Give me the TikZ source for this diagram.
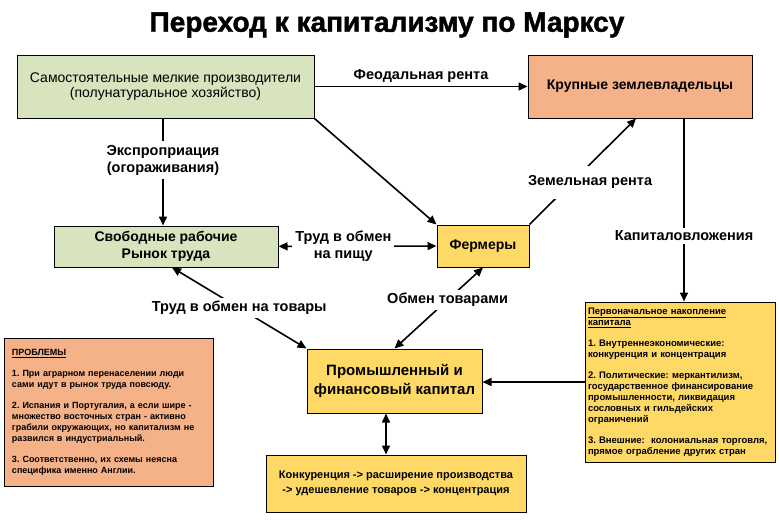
\documentclass[tikz,border=0pt]{standalone}
\usepackage{fontspec}
\setmainfont{Liberation Sans}
\newfontfamily\titlefont[FakeBold=1.6]{Liberation Sans Bold}
\usepackage{tikz}
\usetikzlibrary{arrows.meta}
\definecolor{boxgreen}{RGB}{215,228,189}
\definecolor{boxsalmon}{RGB}{245,177,135}
\definecolor{boxyellow}{RGB}{255,217,102}
\frenchspacing

\begin{document}
\begin{tikzpicture}[x=1pt, y=-1pt,
  box/.style={draw, line width=1pt, align=center, inner sep=2pt},
  boxfont/.style={font=\fontsize{14}{17}\selectfont\bfseries},
  notefont/.style={font=\fontsize{9}{11}\selectfont\bfseries, align=left},
  lbl/.style={fill=white, inner sep=3pt, align=center, font=\fontsize{14.5}{17}\selectfont\bfseries},
  arr/.style={line width=1.6pt, -{Triangle[length=9pt,width=8pt]}},
  darr/.style={line width=1.6pt, {Triangle[length=9pt,width=8pt]}-{Triangle[length=9pt,width=8pt]}}]
  \useasboundingbox (0,0) rectangle (779,520);
  \node[font=\fontsize{28}{30}\titlefont] (title) at (387,25) {Переход к капитализму по Марксу};
  % boxes
  \node[box, fill=boxgreen, minimum width=297, minimum height=63, font=\fontsize{14}{15}\selectfont] (prod) at (165.5,86.5) {Самостоятельные мелкие производители\\(полунатуральное хозяйство)};
  \node[box, boxfont, fill=boxsalmon, minimum width=224, minimum height=63] (lords) at (640,86.5) {Крупные землевладельцы};
  \node[box, boxfont, fill=boxgreen, minimum width=224, minimum height=41] (workers) at (166,246.5) {Свободные рабочие\\Рынок труда};
  \node[box, boxfont, fill=boxyellow, minimum width=92, minimum height=42] (farmers) at (483,246) {Фермеры};
  \node[box, fill=boxyellow, minimum width=175, minimum height=64, font=\fontsize{15}{19}\selectfont\bfseries] (capital) at (394.5,381) {Промышленный и\\финансовый капитал};
  \node[box, fill=boxyellow, minimum width=260, minimum height=57, font=\fontsize{11}{15}\selectfont\bfseries] (compet) at (396,483.5) {Конкуренция -> расширение производства\\-> удешевление товаров -> концентрация};
  \node[box, notefont, font=\fontsize{9.5}{11}\selectfont\bfseries, fill=boxyellow, minimum width=190, minimum height=160, text width=184] (accum) at (680,382) {\underline{Первоначальное накопление}\\\underline{капитала}\\[10pt]1. Внутреннеэкономические:\\конкуренция и концентрация\\[10pt]2. Политические: меркантилизм,\\государственное финансирование\\промышленности, ликвидация\\сословных и гильдейских\\ограничений\\[10pt]3. Внешние:\ \ колониальная торговля,\\прямое ограбление других стран};
  \node[box, notefont, fill=boxsalmon, minimum width=209, minimum height=148, text width=193] (problems) at (108.5,412) {\underline{ПРОБЛЕМЫ}\\[10pt]1. При аграрном перенаселении люди\\сами идут в рынок труда повсюду.\\[10pt]2. Испания и Португалия, а если шире -\\множество восточных стран - активно\\грабили окружающих, но капитализм не\\развился в индустриальный.\\[10pt]3. Соответственно, их схемы неясна\\специфика именно Англии.};
  % connectors
  \draw[arr] (prod) -- (lords) node[lbl, midway, above, fill=none] {Феодальная рента};
  \draw[arr] ([xshift=-2.5]prod.south) -- ([xshift=-2.5]prod.south |- workers.north)
    node[lbl, pos=0.39, inner sep=4pt] {Экспроприация\\(огораживания)};
  \draw[arr] (prod.south east) -- (farmers.north west);
  \draw[arr] (farmers.north east) -- ([xshift=-4]lords.south)
    node[lbl, pos=0.4, xshift=18, inner ysep=10pt] {Земельная рента};
  \draw[arr] ([xshift=44]lords.south) -- ([xshift=44]lords.south |- accum.north)
    node[lbl, pos=0.64] {Капиталовложения};
  \draw[darr] (workers) -- (farmers) node[lbl, pos=0.41] {Труд в обмен\\на пищу};
  \draw[darr] (capital.north west) -- ([xshift=6]workers.south) node[lbl, midway] {Труд в обмен на товары};
  \draw[darr] (capital.north) -- (farmers.south) node[lbl, pos=0.6] {Обмен товарами};
  \draw[arr] (accum.west) -- (accum.west -| capital.east);
  \draw[darr] ([xshift=-8.5]capital.south) -- ([xshift=-8.5]capital.south |- compet.north);
\end{tikzpicture}
\end{document}
